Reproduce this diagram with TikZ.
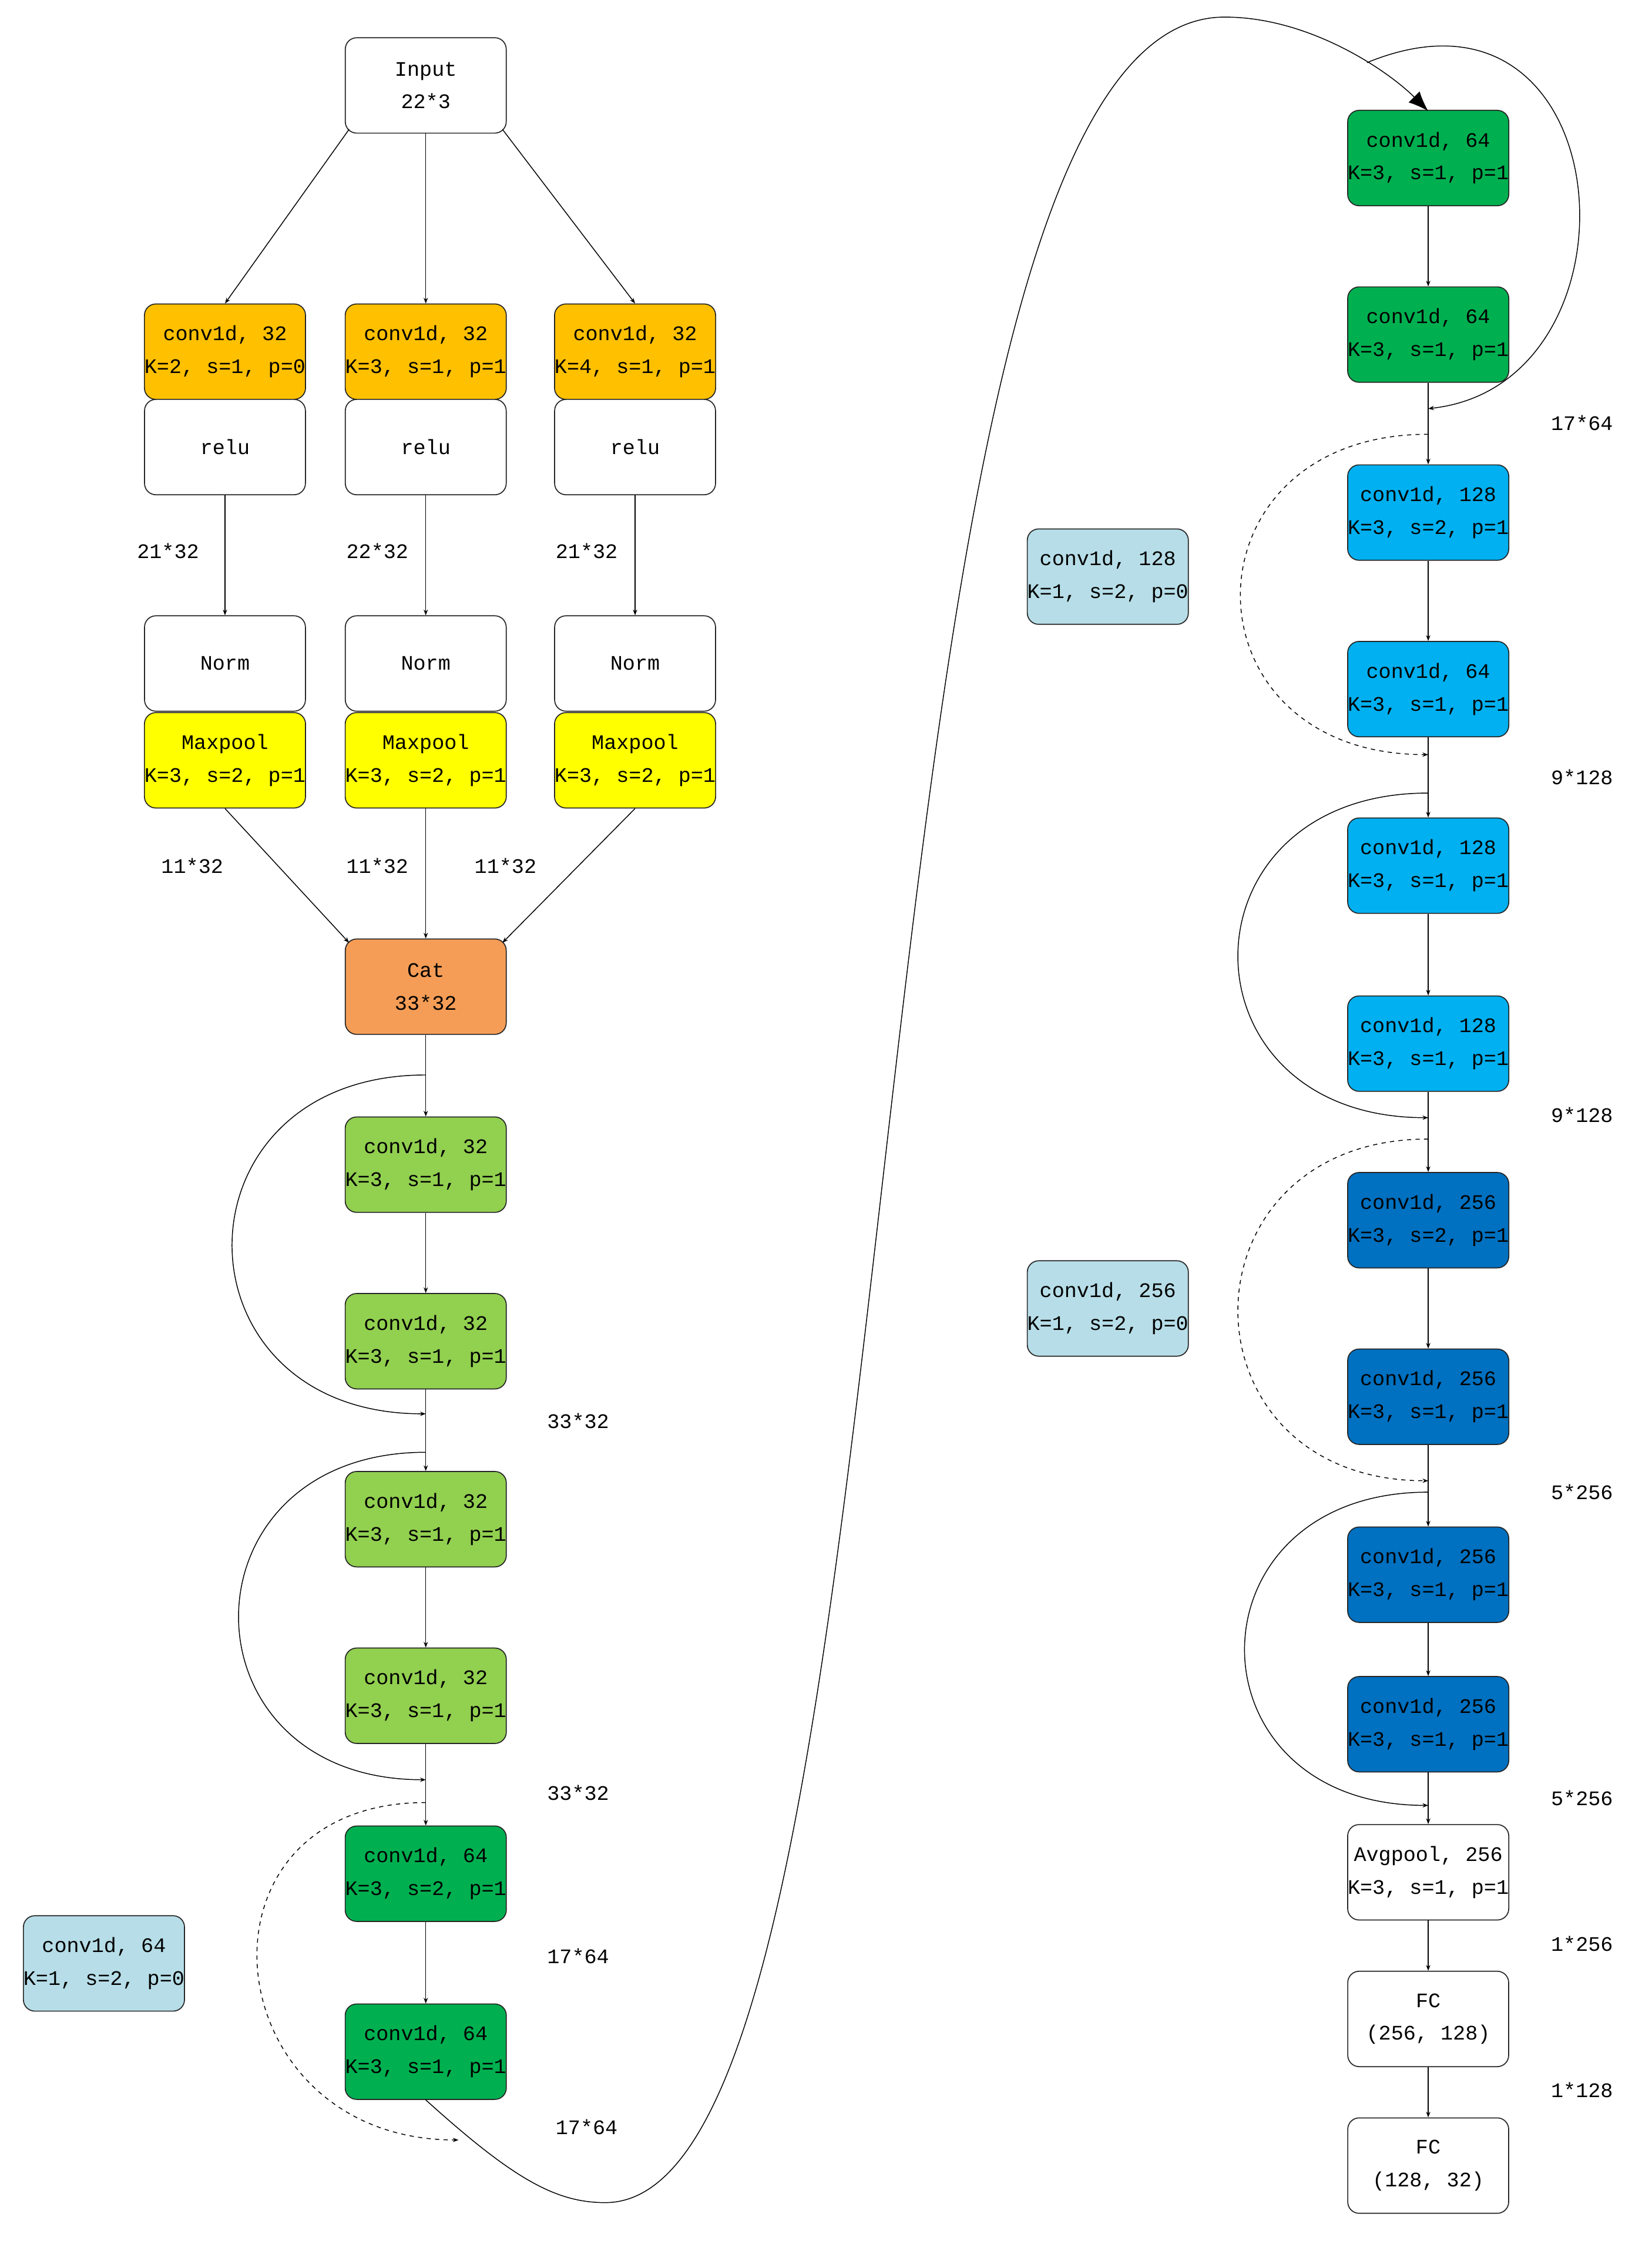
\documentclass[tikz,border=0pt]{standalone}
\usepackage{fontspec}
\setmainfont{Liberation Mono}
\usetikzlibrary{arrows.meta}
\definecolor{cor}{HTML}{FFC000}
\definecolor{cye}{HTML}{FFFF00}
\definecolor{cca}{HTML}{F59D56}
\definecolor{clg}{HTML}{92D050}
\definecolor{cdg}{HTML}{00B050}
\definecolor{ccy}{HTML}{00B0F0}
\definecolor{cdb}{HTML}{0070C0}
\definecolor{cpb}{HTML}{B7DEE8}
\begin{document}
\begin{tikzpicture}[x=1pt,y=-1pt,
 box/.style={draw=black!85,rounded corners=8pt,minimum width=113pt,minimum height=67pt,align=center,inner sep=0pt,font=\fontsize{14.5}{23}\selectfont,line width=0.7pt},
 lab/.style={font=\fontsize{14.5}{17}\selectfont},
 ar/.style={-{Stealth[length=4pt,width=3pt]},line width=0.6pt},
 ln/.style={line width=0.6pt}]
\useasboundingbox (0,0) rectangle (1160,1581);
\node[box,fill=white] (in) at (299,60) {Input\\22*3};
\foreach \n/\x/\t in {a/158/{K=2, s=1, p=0},b/299/{K=3, s=1, p=1},c/446/{K=4, s=1, p=1}}{
 \node[box,fill=cor] (c\n) at (\x,247) {conv1d, 32\\\t};
 \node[box,fill=white] (r\n) at (\x,314) {relu};
 \node[box,fill=white] (n\n) at (\x,466) {Norm};
 \node[box,fill=cye] (m\n) at (\x,534) {Maxpool\\K=3, s=2, p=1};
 \draw[ar] (r\n) -- (n\n);
}
\draw[ar] (in.south west) ++(3,-3) -- (ca.north);
\draw[ar] (in) -- (cb);
\draw[ar] (in.south east) ++(-3,-3) -- (cc.north);
\node[box,fill=cca] (cat) at (299,693) {Cat\\33*32};
\draw[ar] (ma.south) -- ([shift={(3,3)}]cat.north west);
\draw[ar] (mb) -- (cat);
\draw[ar] (mc.south) -- ([shift={(-3,3)}]cat.north east);
\node[lab] at (118,387) {21*32};
\node[lab] at (265,387) {22*32};
\node[lab] at (412,387) {21*32};
\node[lab] at (135,608) {11*32};
\node[lab] at (265,608) {11*32};
\node[lab] at (355,608) {11*32};
% left column
\node[box,fill=clg] (l1) at (299,818) {conv1d, 32\\K=3, s=1, p=1};
\node[box,fill=clg] (l2) at (299,942) {conv1d, 32\\K=3, s=1, p=1};
\node[box,fill=clg] (l3) at (299,1067) {conv1d, 32\\K=3, s=1, p=1};
\node[box,fill=clg] (l4) at (299,1191) {conv1d, 32\\K=3, s=1, p=1};
\node[box,fill=cdg] (l5) at (299,1316) {conv1d, 64\\K=3, s=2, p=1};
\node[box,fill=cdg] (l6) at (299,1441) {conv1d, 64\\K=3, s=1, p=1};
\node[box,fill=cpb] (lb) at (73,1379) {conv1d, 64\\K=1, s=2, p=0};
\draw[ar] (cat) -- (l1);
\draw[ar] (l1) -- (l2);
\draw[ar] (l2) -- (l3);
\draw[ar] (l3) -- (l4);
\draw[ar] (l4) -- (l5);
\draw[ar] (l5) -- (l6);
\coordinate (s1) at (299,755); \coordinate (e1) at (299,993);
\coordinate (s2) at (299,1020); \coordinate (e2) at (299,1250);
\coordinate (s3) at (299,1266); \coordinate (e3) at (322,1503);
\draw[ar] (s1) to[out=180,in=180,looseness=1.95] (e1);
\draw[ar] (s2) to[out=180,in=180,looseness=1.95] (e2);
\draw[ar,dashed] (s3) to[out=180,in=180,looseness=1.85] (e3);
\node[lab] at (406,998) {33*32};
\node[lab] at (406,1259) {33*32};
\node[lab] at (406,1374) {17*64};
\node[lab] at (412,1494) {17*64};
% right column
\node[box,fill=cdg] (q1) at (1003,111) {conv1d, 64\\K=3, s=1, p=1};
\node[box,fill=cdg] (q2) at (1003,235) {conv1d, 64\\K=3, s=1, p=1};
\node[box,fill=ccy] (q3) at (1003,360) {conv1d, 128\\K=3, s=2, p=1};
\node[box,fill=ccy] (q4) at (1003,484) {conv1d, 64\\K=3, s=1, p=1};
\node[box,fill=ccy] (q5) at (1003,608) {conv1d, 128\\K=3, s=1, p=1};
\node[box,fill=ccy] (q6) at (1003,733) {conv1d, 128\\K=3, s=1, p=1};
\node[box,fill=cdb] (q7) at (1003,857) {conv1d, 256\\K=3, s=2, p=1};
\node[box,fill=cdb] (q8) at (1003,981) {conv1d, 256\\K=3, s=1, p=1};
\node[box,fill=cdb] (q9) at (1003,1106) {conv1d, 256\\K=3, s=1, p=1};
\node[box,fill=cdb] (q10) at (1003,1211) {conv1d, 256\\K=3, s=1, p=1};
\node[box,fill=white] (q11) at (1003,1315) {Avgpool, 256\\K=3, s=1, p=1};
\node[box,fill=white] (q12) at (1003,1418) {FC\\(256, 128)};
\node[box,fill=white] (q13) at (1003,1521) {FC\\(128, 32)};
\foreach \a/\b in {q1/q2,q2/q3,q3/q4,q4/q5,q5/q6,q6/q7,q7/q8,q8/q9,q9/q10,q10/q11,q11/q12,q12/q13}
 \draw[ar] (\a) -- (\b);
\node[box,fill=cpb] (rb1) at (778,405) {conv1d, 128\\K=1, s=2, p=0};
\node[box,fill=cpb] (rb2) at (778,919) {conv1d, 256\\K=1, s=2, p=0};
\coordinate (t1) at (1003,305); \coordinate (u1) at (1003,530);
\coordinate (t2) at (1003,557); \coordinate (u2) at (1003,785);
\coordinate (t3) at (1003,800); \coordinate (u3) at (1003,1040);
\coordinate (t4) at (1003,1048); \coordinate (u4) at (1003,1268);
\draw[ar,dashed] (t1) to[out=180,in=180,looseness=2.0] (u1);
\draw[ar] (t2) to[out=180,in=180,looseness=2.0] (u2);
\draw[ar,dashed] (t3) to[out=180,in=180,looseness=1.9] (u3);
\draw[ar] (t4) to[out=180,in=180,looseness=2.0] (u4);
\node[lab] at (1111,297) {17*64};
\node[lab] at (1111,546) {9*128};
\node[lab] at (1111,783) {9*128};
\node[lab] at (1111,1048) {5*256};
\node[lab] at (1111,1263) {5*256};
\node[lab] at (1111,1365) {1*256};
\node[lab] at (1111,1468) {1*128};
% long connection
\coordinate (lo) at (425,1547);
\coordinate (hi) at (860,12);
\coordinate (br) at (960,44);
\coordinate (q1t) at (1003,78);
\draw[ln,-{Latex[length=14pt,width=11pt]}] (l6.south) .. controls (360,1530) and (390,1547) .. (lo)
  .. controls (660,1547) and (580,12) .. (hi) .. controls (920,12) and (975,50) .. (q1t);
\draw[ar] (br) .. controls (1140,-30) and (1160,270) .. (1003,287);
\end{tikzpicture}
\end{document}
